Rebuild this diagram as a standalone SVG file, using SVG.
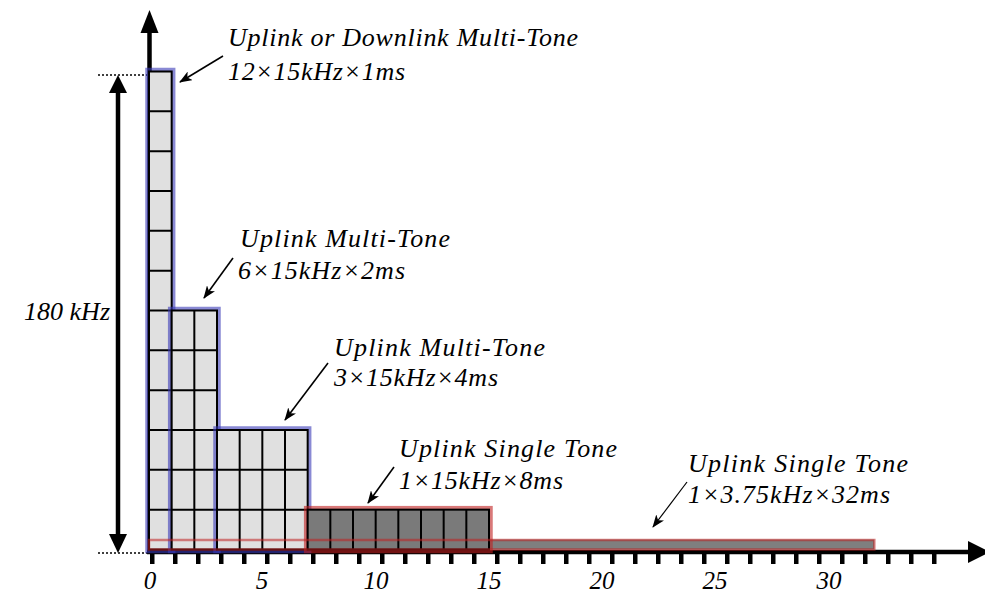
<svg xmlns="http://www.w3.org/2000/svg" width="985" height="596" viewBox="0 0 985 596">
<style>
.light{fill:#e0e0e0}
.dark{fill:#7a7a7a}
.grid{stroke:#000;stroke-width:2;fill:none}
.blue{fill:none;stroke:#3a3ab8;stroke-opacity:0.6;stroke-width:3.5}
.red{fill:none;stroke:#c02020;stroke-opacity:0.6;stroke-width:3.5}
.edge{fill:none;stroke:#000;stroke-width:2}
.ax{stroke:#000;stroke-width:4.5;fill:none}
</style>
<defs>
<marker id="ah" markerUnits="userSpaceOnUse" markerWidth="14" markerHeight="10" refX="12" refY="5" orient="auto">
<path d="M0,0 L13,5 L0,10 L3.5,5 z" fill="#000"/>
</marker>
</defs>

<g id="axes">
<line class="ax" x1="149.5" y1="554" x2="149.5" y2="30"/>
<polygon points="140.5,33 158.5,33 149.5,10" fill="#000"/>
<line class="ax" x1="147" y1="552" x2="972" y2="552"/>
<polygon points="968,541 968,563 990,552" fill="#000"/>
<g fill="#000">
<rect x="150" y="552" width="4.5" height="12"/><rect x="173" y="552" width="4.5" height="12"/><rect x="196" y="552" width="4.5" height="12"/><rect x="219" y="552" width="4.5" height="12"/><rect x="242" y="552" width="4.5" height="12"/><rect x="265" y="552" width="4.5" height="12"/><rect x="288" y="552" width="4.5" height="12"/><rect x="311" y="552" width="4.5" height="12"/><rect x="334" y="552" width="4.5" height="12"/><rect x="357" y="552" width="4.5" height="12"/><rect x="380" y="552" width="4.5" height="12"/><rect x="403" y="552" width="4.5" height="12"/><rect x="426" y="552" width="4.5" height="12"/><rect x="449" y="552" width="4.5" height="12"/><rect x="472" y="552" width="4.5" height="12"/><rect x="495" y="552" width="4.5" height="12"/><rect x="518" y="552" width="4.5" height="12"/><rect x="541" y="552" width="4.5" height="12"/><rect x="564" y="552" width="4.5" height="12"/><rect x="587" y="552" width="4.5" height="12"/><rect x="610" y="552" width="4.5" height="12"/><rect x="633" y="552" width="4.5" height="12"/><rect x="656" y="552" width="4.5" height="12"/><rect x="679" y="552" width="4.5" height="12"/><rect x="702" y="552" width="4.5" height="12"/><rect x="725" y="552" width="4.5" height="12"/><rect x="748" y="552" width="4.5" height="12"/><rect x="771" y="552" width="4.5" height="12"/><rect x="794" y="552" width="4.5" height="12"/><rect x="817" y="552" width="4.5" height="12"/><rect x="840" y="552" width="4.5" height="12"/><rect x="863" y="552" width="4.5" height="12"/><rect x="886" y="552" width="4.5" height="12"/><rect x="909" y="552" width="4.5" height="12"/><rect x="932" y="552" width="4.5" height="12"/>
</g>
<g font-family="Liberation Serif" font-style="italic" font-size="25" text-anchor="middle" fill="#000">
<text x="150" y="589">0</text>
<text x="262" y="589">5</text>
<text x="376" y="589">10</text>
<text x="489" y="589">15</text>
<text x="602" y="589">20</text>
<text x="715" y="589">25</text>
<text x="829" y="589">30</text>
</g>
</g>

<g id="bandwidth">
<g stroke="#000" stroke-width="1.4" stroke-dasharray="2 2">
<line x1="98" y1="75" x2="147" y2="75"/>
<line x1="98" y1="553" x2="147" y2="553"/>
</g>
<line class="ax" x1="118" y1="90" x2="118" y2="537"/>
<polygon points="109,93 127,93 118,75" fill="#000"/>
<polygon points="109,534 127,534 118,553" fill="#000"/>
<text x="24" y="320" textLength="86" lengthAdjust="spacing" font-family="Liberation Serif" font-style="italic" font-size="26">180 kHz</text>
</g>

<g id="bar32-fill">
<rect x="149" y="539.5" width="725.33" height="10" fill="#7f7f7f"/>
</g>

<g id="block-12x1">
<rect class="light" x="149" y="71.5" width="22.67" height="478"/>
<path class="grid" d="M149,111.33H171.67M149,151.17H171.67M149,191H171.67M149,230.83H171.67M149,270.67H171.67M149,310.5H171.67M149,350.33H171.67M149,390.17H171.67M149,430H171.67M149,469.83H171.67M149,509.67H171.67"/>
<rect class="blue" x="147" y="69.5" width="26.67" height="482"/>
<rect class="edge" x="149" y="71.5" width="22.67" height="478"/>
</g>

<g id="block-6x2">
<rect class="light" x="171.67" y="310.5" width="45.33" height="239"/>
<path class="grid" d="M171.67,350.33H217M171.67,390.17H217M171.67,430H217M171.67,469.83H217M171.67,509.67H217M194.33,310.5V549.5"/>
<rect class="blue" x="169.67" y="308.5" width="49.33" height="243"/>
<rect class="edge" x="171.67" y="310.5" width="45.33" height="239"/>
</g>

<g id="block-3x4">
<rect class="light" x="217" y="430" width="90.67" height="119.5"/>
<path class="grid" d="M217,469.83H307.67M217,509.67H307.67M239.67,430V549.5M262.33,430V549.5M285,430V549.5"/>
<rect class="blue" x="215" y="428" width="94.67" height="123.5"/>
<rect class="edge" x="217" y="430" width="90.67" height="119.5"/>
</g>

<g id="block-1x8">
<rect class="dark" x="307.67" y="509.67" width="181.33" height="39.83"/>
<path class="grid" d="M330.33,509.67V549.5M353,509.67V549.5M375.67,509.67V549.5M398.33,509.67V549.5M421,509.67V549.5M443.67,509.67V549.5M466.33,509.67V549.5"/>
<rect class="red" x="305.67" y="507.67" width="185.33" height="43.83"/>
<rect class="edge" x="307.67" y="509.67" width="181.33" height="39.83"/>
</g>

<g id="block-1x32">
<rect x="149" y="540" width="725.33" height="9.5" fill="none" stroke="#c02020" stroke-opacity="0.55" stroke-width="2.5"/>
</g>

<g font-family="Liberation Serif" font-style="italic" font-size="26" fill="#000">
<g id="label-1">
<text x="228" y="46" textLength="350" lengthAdjust="spacing">Uplink or Downlink Multi-Tone</text>
<text x="228" y="80" textLength="177" lengthAdjust="spacing">12×15kHz×1ms</text>
</g>
<g id="label-2">
<text x="240" y="247" textLength="210" lengthAdjust="spacing">Uplink Multi-Tone</text>
<text x="238" y="279" textLength="167" lengthAdjust="spacing">6×15kHz×2ms</text>
</g>
<g id="label-3">
<text x="334" y="356" textLength="211" lengthAdjust="spacing">Uplink Multi-Tone</text>
<text x="334" y="386" textLength="164" lengthAdjust="spacing">3×15kHz×4ms</text>
</g>
<g id="label-4">
<text x="399" y="457" textLength="218" lengthAdjust="spacing">Uplink Single Tone</text>
<text x="399" y="489" textLength="164" lengthAdjust="spacing">1×15kHz×8ms</text>
</g>
<g id="label-5">
<text x="688" y="472" textLength="220" lengthAdjust="spacing">Uplink Single Tone</text>
<text x="688" y="503" textLength="202" lengthAdjust="spacing">1×3.75kHz×32ms</text>
</g>
</g>

<g id="connectors" stroke="#000" stroke-width="1.6" fill="none">
<line x1="223" y1="56" x2="180" y2="82" marker-end="url(#ah)"/>
<line x1="233" y1="258" x2="204" y2="298" marker-end="url(#ah)"/>
<line x1="328" y1="363" x2="285" y2="420" marker-end="url(#ah)"/>
<line x1="394" y1="467" x2="368" y2="503" marker-end="url(#ah)"/>
<line x1="687" y1="482" x2="653" y2="527" stroke-width="1.2" marker-end="url(#ah)"/>
</g>
</svg>
